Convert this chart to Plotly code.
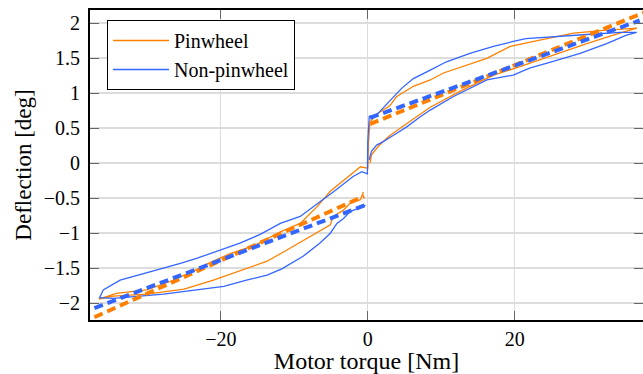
import plotly.graph_objects as go

# ---- data ----
pin_torque = [0.3, 0.5, 1.5, 2.8, 4.4, 6.2, 8.5, 12.6, 17.1, 20.7, 25.3, 29.8, 33.4, 36.6,
              32.1, 28.0, 23.4, 19.4, 16.2, 13.0, 10.3, 8.5, 6.2, 3.9, 3.0, 1.2, 0.3, 0.1, 0.0,
              -1.0, -2.4, -3.8, -5.1, -6.9, -9.2, -11.9, -15.3, -18.9, -21.5, -23.3, -26.9, -30.1, -34.2, -36.6,
              -34.6, -30.1, -25.0, -21.0, -17.4, -13.7, -11.0, -8.3, -5.1, -4.7, -3.3, -2.4, -1.0, -0.6]
pin_defl = [0.0, 0.12, 0.25, 0.38, 0.5, 0.63, 0.8, 1.03, 1.26, 1.38, 1.55, 1.71, 1.83, 1.93,
            1.9, 1.86, 1.76, 1.67, 1.5, 1.38, 1.29, 1.19, 1.1, 0.95, 0.82, 0.7, 0.59, 0.3, -0.07,
            -0.05, -0.17, -0.29, -0.4, -0.62, -0.86, -0.98, -1.17, -1.3, -1.42, -1.52, -1.69, -1.81, -1.86, -1.94,
            -1.9, -1.87, -1.8, -1.67, -1.54, -1.4, -1.24, -1.07, -0.88, -0.76, -0.67, -0.57, -0.52, -0.41]

non_torque = [0.2, 0.5, 1.2, 2.1, 3.5, 5.3, 7.1, 8.5, 11.6, 14.0, 16.2, 19.8, 22.0, 24.4, 28.9, 32.5, 35.2, 36.6,
              34.3, 29.8, 25.3, 21.5, 19.8, 17.1, 13.9, 10.7, 8.5, 6.2, 4.6, 3.3, 2.1, 1.2, 0.2, 0.0, -0.05,
              -0.8, -2.0, -3.3, -4.7, -6.5, -9.2, -11.9, -14.7, -17.4, -20.1, -23.3, -25.5, -30.1, -33.7, -36.0, -36.5,
              -34.6, -31.0, -27.8, -23.3, -19.6, -16.5, -13.7, -11.7, -8.8, -6.5, -5.1, -4.2, -3.3, -2.4, -1.3, -0.3]
non_defl = [0.05, 0.17, 0.26, 0.31, 0.40, 0.52, 0.66, 0.76, 0.95, 1.08, 1.19, 1.26, 1.36, 1.43, 1.57, 1.71, 1.83, 1.87,
            1.87, 1.84, 1.81, 1.78, 1.74, 1.67, 1.57, 1.45, 1.33, 1.21, 1.07, 0.93, 0.79, 0.69, 0.67, 0.31, -0.15,
            -0.12, -0.19, -0.29, -0.41, -0.55, -0.76, -0.86, -1.02, -1.14, -1.24, -1.36, -1.43, -1.57, -1.67, -1.81, -1.92,
            -1.93, -1.9, -1.87, -1.81, -1.76, -1.67, -1.6, -1.51, -1.33, -1.14, -1.0, -0.86, -0.79, -0.69, -0.64, -0.6]

# linear fits (negative and positive torque segments)
pin_fit_neg_x = [-37.2, -0.5]
pin_fit_neg_y = [-2.2, -0.47]
pin_fit_pos_x = [0.3, 37.5]
pin_fit_pos_y = [0.56, 2.15]
non_fit_neg_x = [-37.2, -0.4]
non_fit_neg_y = [-2.07, -0.6]
non_fit_pos_x = [0.3, 37.0]
non_fit_pos_y = [0.65, 2.04]

x_ticks = [-20, 0, 20]
y_ticks = [-2, -1.5, -1, -0.5, 0, 0.5, 1, 1.5, 2]

ORANGE = "rgb(255,128,0)"
BLUE = "rgb(51,102,255)"
FONT = "Liberation Serif, Times New Roman, serif"

fig = go.Figure()
fig.add_trace(go.Scatter(x=pin_torque, y=pin_defl, mode="lines", name="Pinwheel",
                         line=dict(color=ORANGE, width=1.3)))
fig.add_trace(go.Scatter(x=non_torque, y=non_defl, mode="lines", name="Non-pinwheel",
                         line=dict(color=BLUE, width=1.3)))
dash = "9px,5px"
for xs, ys, c in [(pin_fit_neg_x, pin_fit_neg_y, ORANGE), (pin_fit_pos_x, pin_fit_pos_y, ORANGE),
                  (non_fit_neg_x, non_fit_neg_y, BLUE), (non_fit_pos_x, non_fit_pos_y, BLUE)]:
    fig.add_trace(go.Scatter(x=xs, y=ys, mode="lines", showlegend=False,
                             line=dict(color=c, width=4, dash=dash)))

tick_font = dict(family=FONT, size=20, color="black")
yr = [-2.24, 2.19]
fig.update_layout(
    width=643, height=374,
    margin=dict(l=90, r=0, t=10, b=54),
    paper_bgcolor="white", plot_bgcolor="white",
    font=dict(family=FONT, size=20, color="black"),
    xaxis=dict(range=[-37.8, 37.45], tickvals=x_ticks, showgrid=True, gridcolor="#dcdcdc", gridwidth=1,
               zeroline=False, showline=True, linecolor="black", linewidth=2, mirror="ticks",
               ticks="inside", ticklen=9, tickcolor="#666666", tickwidth=1.2,
               tickfont=tick_font,
               title=dict(text="Motor torque [Nm]", font=dict(family=FONT, size=24), standoff=2)),
    yaxis=dict(range=yr, tickvals=y_ticks, showgrid=True, gridcolor="#dcdcdc", gridwidth=1.5,
               zeroline=False, showline=True, linecolor="black", linewidth=2,
               ticks="inside", ticklen=9, tickcolor="#666666", tickwidth=1.2,
               ticklabelstandoff=4, tickfont=tick_font,
               title=dict(text="Deflection [deg]", font=dict(family=FONT, size=23), standoff=6)),
    yaxis2=dict(range=yr, tickvals=y_ticks, overlaying="y", side="right", showgrid=False,
                zeroline=False, showline=False, showticklabels=False,
                ticks="inside", ticklen=9, tickcolor="#666666", tickwidth=1.2),
    legend=dict(x=(107 - 90) / 553, y=(320 - 20) / 310, xanchor="left", yanchor="top",
                bgcolor="white", bordercolor="black", borderwidth=1,
                font=dict(family=FONT, size=20), itemwidth=56, tracegroupgap=0),
    showlegend=True,
)
# invisible trace so the right-hand tick axis renders
fig.add_trace(go.Scatter(x=[0], y=[0], yaxis="y2", mode="lines", showlegend=False,
                         line=dict(width=0), hoverinfo="skip"))
fig.write_html("out.html")
